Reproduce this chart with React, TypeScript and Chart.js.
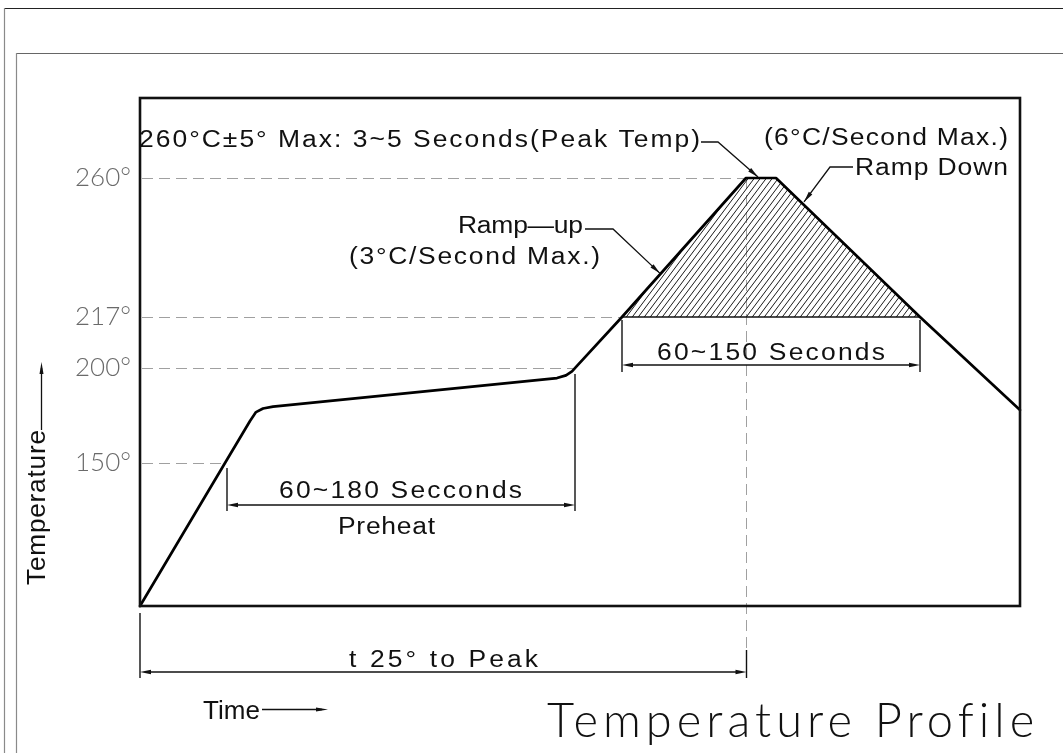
import React, { useEffect, useRef } from "react";
import { Chart, registerables, LinearScale } from "chart.js";

// ---------------- data ----------------
// time is in schematic drawing units (the diagram is not to scale)
const PROFILE_TIME = [0, 85, 110, 116, 123, 133, 417, 426, 432, 437, 482, 606, 636, 780, 880];
const PROFILE_TEMP = [25, 150, 172.1, 176.8, 178.7, 179.7, 194.7, 196.1, 198.2, 200.7, 217, 260, 260, 217, 177.9];
const REFLOW_TIME = [482, 606, 636, 780];
const REFLOW_TEMP = [217, 260, 260, 217];
const LIQUIDUS = 217;
const Y_TICKS = [150, 200, 217, 260];
const Y_TICK_TIMES = [85, 435, 482, 606]; // where each guide meets the curve
const PEAK_TIME = 606;
const PREHEAT_START = 87;
const PREHEAT_END = 435;
const TIME_MAX = 880;
const TEMP_MIN = 25;
const TEMP_MAX = 285;

// labels
const PEAK_NOTE = "260°C±5° Max: 3~5 Seconds(Peak Temp)";
const DOWN_RATE = "(6°C/Second Max.)";
const DOWN_LABEL = "Ramp Down";
const UP_LABEL = "Ramp—up";
const UP_RATE = "(3°C/Second Max.)";
const REFLOW_LABEL = "60~150 Seconds";
const PREHEAT_TIME_LABEL = "60~180 Secconds";
const PREHEAT_LABEL = "Preheat";
const TO_PEAK_LABEL = "t 25° to Peak";
const X_TITLE = "Time";
const Y_TITLE = "Temperature";
const TITLE = "Temperature Profile";

// non-linear (schematic) temperature axis: break temperatures and their axis fractions
const Y_BREAK_TEMPS = [25, 150, 200, 217, 260, 285];
const Y_BREAK_FRACS = [0, 0.2815, 0.4685, 0.5689, 0.8425, 1];

function tempToFrac(v: number) {
  const t = Y_BREAK_TEMPS, f = Y_BREAK_FRACS;
  let i = 0;
  if (v <= t[0]) i = 0;
  else if (v >= t[t.length - 1]) i = t.length - 2;
  else while (i < t.length - 2 && v > t[i + 1]) i++;
  return f[i] + ((v - t[i]) / (t[i + 1] - t[i])) * (f[i + 1] - f[i]);
}
function fracToTemp(d: number) {
  const t = Y_BREAK_TEMPS, f = Y_BREAK_FRACS;
  let i = 0;
  if (d <= f[0]) i = 0;
  else if (d >= f[f.length - 1]) i = f.length - 2;
  else while (i < f.length - 2 && d > f[i + 1]) i++;
  return t[i] + ((d - f[i]) / (f[i + 1] - f[i])) * (t[i + 1] - t[i]);
}

class BrokenScale extends LinearScale {
  static id = "broken";
  static defaults = LinearScale.defaults;
  getPixelForValue(value: number) {
    return this.getPixelForDecimal(tempToFrac(value));
  }
  getValueForPixel(pixel: number) {
    return fracToTemp(this.getDecimalForPixel(pixel));
  }
}

Chart.register(...registerables, BrokenScale);

const SANS = '"Liberation Sans", Arial, sans-serif';
const LIGHT = 'Lato, "Liberation Sans", sans-serif';
const CAP = 0.72;
const INK = "#111";
const GUIDE = "#a0a0a0";

function seg(ctx: CanvasRenderingContext2D, x0: number, y0: number, x1: number, y1: number) {
  ctx.beginPath();
  ctx.moveTo(x0, y0);
  ctx.lineTo(x1, y1);
  ctx.stroke();
}

function head(ctx: CanvasRenderingContext2D, xf: number, yf: number, xt: number, yt: number, len = 11, half = 2.2) {
  const a = Math.atan2(yt - yf, xt - xf);
  const c = Math.cos(a), s = Math.sin(a);
  ctx.beginPath();
  ctx.moveTo(xt, yt);
  ctx.lineTo(xt - len * c + half * s, yt - len * s - half * c);
  ctx.lineTo(xt - len * c - half * s, yt - len * s + half * c);
  ctx.closePath();
  ctx.fill();
}

function fitText(
  ctx: CanvasRenderingContext2D,
  text: string,
  x0: number,
  x1: number,
  yMid: number,
  size: number,
  family = SANS,
  color = INK,
  weight = "400",
  stretch = 1
) {
  ctx.save();
  const c: any = ctx;
  ctx.font = `${weight} ${size}px ${family}`;
  ctx.fillStyle = color;
  ctx.textAlign = "left";
  ctx.textBaseline = "alphabetic";
  c.letterSpacing = "0px";
  const w = ctx.measureText(text).width;
  const n = Array.from(text).length;
  const ls = n > 1 ? ((x1 - x0) / stretch - w) / (n - 1) : 0;
  c.letterSpacing = `${ls}px`;
  ctx.translate(x0, yMid + (size * CAP) / 2);
  ctx.scale(stretch, 1);
  ctx.fillText(text, 0, 0);
  ctx.restore();
}

const drawingPlugin = {
  id: "drawing",
  beforeDatasetsDraw(chart: any) {
    const { ctx, chartArea: a } = chart;
    const xs = chart.scales.x, ys = chart.scales.y;
    ctx.save();
    ctx.strokeStyle = GUIDE;
    ctx.lineWidth = 1.2;
    ctx.setLineDash([11, 6]);
    Y_TICKS.forEach((t, i) => {
      const y = Math.round(ys.getPixelForValue(t)) + 0.5;
      seg(ctx, a.left + 2, y, xs.getPixelForValue(Y_TICK_TIMES[i]), y);
    });
    const xp = Math.round(xs.getPixelForValue(PEAK_TIME)) + 0.5;
    ctx.lineWidth = 1;
    seg(ctx, xp, ys.getPixelForValue(260), xp, a.bottom + 44);
    ctx.restore();
  },
  afterDatasetsDraw(chart: any) {
    const { ctx, chartArea: a } = chart;
    ctx.save();
    ctx.strokeStyle = INK;
    ctx.lineWidth = 2.6;
    ctx.strokeRect(a.left, a.top, a.right - a.left, a.bottom - a.top);
    ctx.restore();
  },
  afterDraw(chart: any) {
    const { ctx, chartArea: a, width: W, height: H } = chart;
    const xs = chart.scales.x, ys = chart.scales.y;
    const px = (v: number) => xs.getPixelForValue(v);
    const py = (v: number) => ys.getPixelForValue(v);
    ctx.save();

    // drawing sheet borders
    ctx.lineWidth = 1.2;
    ctx.strokeStyle = "#222";
    seg(ctx, 4, 8.5, W, 8.5);
    ctx.strokeStyle = "#8a8a8a";
    seg(ctx, 4.5, 8, 4.5, H);
    ctx.strokeStyle = "#666";
    seg(ctx, 16, 53.5, W, 53.5);
    ctx.strokeStyle = "#8a8a8a";
    seg(ctx, 16.5, 53, 16.5, H);

    ctx.strokeStyle = INK;
    ctx.fillStyle = INK;
    ctx.lineWidth = 1.4;

    // reflow window dimension (60~150 s)
    const r0 = px(REFLOW_TIME[0]), r1 = px(REFLOW_TIME[3]);
    const yr = 365;
    seg(ctx, r0, py(LIQUIDUS) + 3, r0, yr + 7);
    seg(ctx, r1, py(LIQUIDUS) + 3, r1, yr + 7);
    seg(ctx, r0 + 6, yr, r1 - 6, yr);
    head(ctx, r1, yr, r0, yr);
    head(ctx, r0, yr, r1, yr);

    // preheat dimension (60~180 s)
    const p0 = px(PREHEAT_START), p1 = px(PREHEAT_END);
    const yp = 505;
    seg(ctx, p0, 468, p0, yp + 6);
    seg(ctx, p1, py(199) + 4, p1, yp + 6);
    seg(ctx, p0 + 6, yp, p1 - 6, yp);
    head(ctx, p1, yp, p0, yp);
    head(ctx, p0, yp, p1, yp);

    // t 25° to peak dimension
    const t0 = px(0), t1 = Math.round(px(PEAK_TIME)) + 0.5;
    const yt = 672;
    seg(ctx, t0, a.bottom + 7, t0, yt + 6);
    seg(ctx, t1, a.bottom + 44, t1, yt + 6);
    seg(ctx, t0 + 6, yt, t1 - 6, yt);
    head(ctx, t1, yt, t0, yt);
    head(ctx, t0, yt, t1, yt);

    // leaders
    ctx.lineWidth = 1.3;
    const pkTip = { x: px(PEAK_TIME + 12), y: py(260) - 1 };
    ctx.beginPath();
    ctx.moveTo(701, 142);
    ctx.lineTo(718, 142);
    ctx.lineTo(pkTip.x, pkTip.y);
    ctx.stroke();
    head(ctx, 718, 142, pkTip.x, pkTip.y);
    const upTip = { x: px(520), y: py(230.5) };
    ctx.beginPath();
    ctx.moveTo(585, 229);
    ctx.lineTo(613, 229);
    ctx.lineTo(upTip.x, upTip.y);
    ctx.stroke();
    head(ctx, 613, 229, upTip.x, upTip.y);
    const dnTip = { x: px(664), y: py(252.6) };
    ctx.beginPath();
    ctx.moveTo(853, 167);
    ctx.lineTo(830, 167);
    ctx.lineTo(dnTip.x, dnTip.y);
    ctx.stroke();
    head(ctx, 830, 167, dnTip.x, dnTip.y);

    // axis arrows
    ctx.lineWidth = 1.3;
    seg(ctx, 262, 709.5, 322, 709.5);
    head(ctx, 262, 709.5, 328, 709.5, 12, 2);
    seg(ctx, 41.5, 430, 41.5, 368);
    head(ctx, 41.5, 430, 41.5, 362, 12, 2);

    // texts
    const S = 23;
    const X = 1.15;
    fitText(ctx, PEAK_NOTE, 139, 700, 139, S, SANS, INK, "400", X);
    fitText(ctx, DOWN_RATE, 764, 1008, 137, S, SANS, INK, "400", X);
    fitText(ctx, DOWN_LABEL, 855, 1008, 167, S, SANS, INK, "400", X);
    fitText(ctx, UP_LABEL, 458, 583, 225, S, SANS, INK, "400", X);
    fitText(ctx, UP_RATE, 349, 600, 256, S, SANS, INK, "400", X);
    fitText(ctx, REFLOW_LABEL, 657, 885, 352, S, SANS, INK, "400", X);
    fitText(ctx, PREHEAT_TIME_LABEL, 279, 522, 490, S, SANS, INK, "400", X);
    fitText(ctx, PREHEAT_LABEL, 338, 435, 526, S, SANS, INK, "400", X);
    fitText(ctx, TO_PEAK_LABEL, 349, 538, 659, S, SANS, INK, "400", X);
    fitText(ctx, X_TITLE, 203, 260, 710, 26);
    fitText(ctx, TITLE, 547, 1033, 720, 47, LIGHT, "#111", "300");

    // rotated y title
    ctx.save();
    ctx.translate(36, 585);
    ctx.rotate(-Math.PI / 2);
    fitText(ctx, Y_TITLE, 0, 155, 0, 25, SANS, INK, "400", 1.05);
    ctx.restore();

    ctx.restore();
  },
};

export default function App() {
  const ref = useRef<HTMLCanvasElement>(null);
  useEffect(() => {
    const canvas = ref.current!;
    const pc = document.createElement("canvas");
    pc.width = 6;
    pc.height = 8;
    const p = pc.getContext("2d")!;
    p.strokeStyle = "#1a1a1a";
    p.lineWidth = 1;
    for (const dx of [-6, 0, 6]) {
      p.beginPath();
      p.moveTo(dx - 1, 8 + 8 / 6);
      p.lineTo(dx + 7, -8 / 6);
      p.stroke();
    }
    const pattern = canvas.getContext("2d")!.createPattern(pc, "repeat");

    const chart = new Chart(canvas, {
      type: "line",
      data: {
        datasets: [
          {
            label: "Reflow profile",
            data: PROFILE_TIME.map((t, i) => ({ x: t, y: PROFILE_TEMP[i] })),
            borderColor: "#000",
            borderWidth: 2.7,
            pointRadius: 0,
            tension: 0,
            fill: false,
            clip: false,
            borderJoinStyle: "round",
            borderCapStyle: "round",
            order: 0,
          },
          {
            label: "Liquidus",
            data: [
              { x: REFLOW_TIME[0], y: LIQUIDUS },
              { x: REFLOW_TIME[REFLOW_TIME.length - 1], y: LIQUIDUS },
            ],
            borderColor: "#111",
            borderWidth: 1.5,
            pointRadius: 0,
            fill: false,
            order: 1,
          },
          {
            label: "Time above liquidus",
            data: REFLOW_TIME.map((t, i) => ({ x: t, y: REFLOW_TEMP[i] })),
            borderColor: "rgba(0,0,0,0)",
            borderWidth: 0,
            pointRadius: 0,
            backgroundColor: pattern as any,
            fill: { value: LIQUIDUS },
            order: 2,
          },
        ],
      },
      options: {
        responsive: false,
        animation: false,
        events: [],
        layout: { padding: { left: 0, top: 98, right: 43, bottom: 147 } },
        plugins: {
          legend: { display: false },
          tooltip: { enabled: false },
          title: { display: false },
        },
        scales: {
          x: { type: "linear", min: 0, max: TIME_MAX, display: false },
          y: {
            type: "broken" as any,
            min: TEMP_MIN,
            max: TEMP_MAX,
            afterFit: (s: any) => {
              s.width = 140;
            },
            afterBuildTicks: (s: any) => {
              s.ticks = Y_TICKS.map((v) => ({ value: v }));
            },
            grid: { display: false, drawTicks: false },
            border: { display: false },
            ticks: {
              padding: 9,
              color: "#6a6a6a",
              autoSkip: false,
              font: { family: LIGHT, size: 26, weight: "300" as any },
              callback: (v: any) => `${v}°`,
            },
          } as any,
        },
      },
      plugins: [drawingPlugin],
    });
    return () => chart.destroy();
  }, []);

  return (
    <div style={{ position: "fixed", left: 0, top: 0, width: 1063, height: 753, background: "#fff" }}>
      <canvas ref={ref} width={1063} height={753} style={{ display: "block", width: 1063, height: 753 }} />
    </div>
  );
}
